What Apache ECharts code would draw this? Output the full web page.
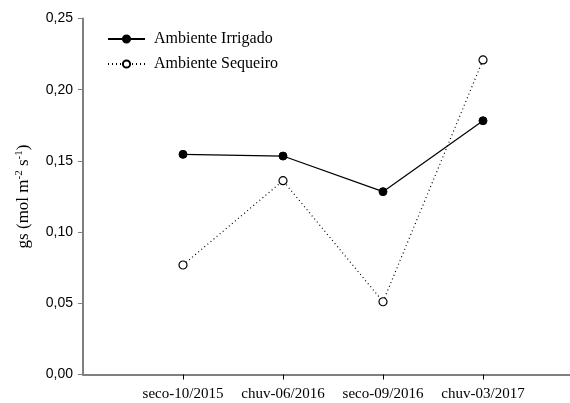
<!DOCTYPE html>
<html>
<head>
<meta charset="utf-8">
<script src="https://cdn.jsdelivr.net/npm/echarts@6/dist/echarts.min.js"></script>
<style>html,body{margin:0;padding:0;background:#fff}#c{width:570px;height:403px}</style>
</head>
<body>
<div id="c"></div>
<script>
var categories = ['seco-10/2015', 'chuv-06/2016', 'seco-09/2016', 'chuv-03/2017'];
var irrigado = [0.1546, 0.1534, 0.1284, 0.1782];
var sequeiro = [0.0769, 0.1361, 0.0511, 0.2209];
var yTicks = [0, 0.05, 0.10, 0.15, 0.20, 0.25];

var xPos = categories.map(function (c, i) { return i + 1; });
function pts(arr) { return arr.map(function (v, i) { return [xPos[i], v]; }); }

var chart = echarts.init(document.getElementById('c'));
var axisGray = '#808080';
chart.setOption({
  animation: false,
  backgroundColor: '#fff',
  grid: { left: 83, right: 0, top: 18.5, bottom: 28.5, containLabel: false },
  legend: {
    orient: 'vertical', left: 102, top: 26, itemWidth: 37, itemHeight: 9, itemGap: 9,
    textStyle: { fontFamily: 'Liberation Serif', fontSize: 16, color: '#000', padding: [0, 0, 0, 4] },
    data: ['Ambiente Irrigado', 'Ambiente Sequeiro']
  },
  xAxis: {
    type: 'value', min: 0, max: 4.87,
    splitLine: { show: false },
    axisLine: { lineStyle: { color: axisGray, width: 2 } },
    axisTick: { show: true, length: 5, lineStyle: { color: '#000', width: 1 }, customValues: xPos },
    axisLabel: {
      customValues: xPos, margin: 12, color: '#000', fontFamily: 'Liberation Serif', fontSize: 15,
      formatter: function (v) { return categories[Math.round(v) - 1] || ''; }
    }
  },
  yAxis: {
    type: 'value', min: 0, max: 0.25, interval: 0.05,
    splitLine: { show: false },
    axisLine: { show: true, lineStyle: { color: axisGray, width: 2 } },
    axisTick: { show: true, length: 5, lineStyle: { color: axisGray, width: 1 } },
    axisLabel: {
      margin: 10, color: '#000', fontFamily: 'Liberation Sans', fontSize: 14,
      formatter: function (v) { return v.toFixed(2).replace('.', ','); }
    },
    name: 'gs (mol m{sup|-2} s{sup|-1})',
    nameLocation: 'middle', nameGap: 50, nameRotate: 90,
    nameTextStyle: {
      fontFamily: 'Liberation Serif', fontSize: 17, color: '#000',
      rich: { sup: { fontFamily: 'Liberation Serif', fontSize: 11, color: '#000', padding: [0, 0, 8, 0] } }
    }
  },
  series: [
    {
      name: 'Ambiente Irrigado', type: 'line', data: pts(irrigado),
      symbol: 'circle', symbolSize: 8,
      itemStyle: { color: '#000', borderColor: '#000', borderWidth: 1 },
      lineStyle: { color: '#000', width: 1.2, type: 'solid' }
    },
    {
      name: 'Ambiente Sequeiro', type: 'line', data: pts(sequeiro),
      symbol: 'circle', symbolSize: 8,
      itemStyle: { color: '#fff', borderColor: '#000', borderWidth: 1.2 },
      lineStyle: { color: '#000', width: 1.2, type: [1, 3] }
    }
  ]
});
</script>
</body>
</html>
